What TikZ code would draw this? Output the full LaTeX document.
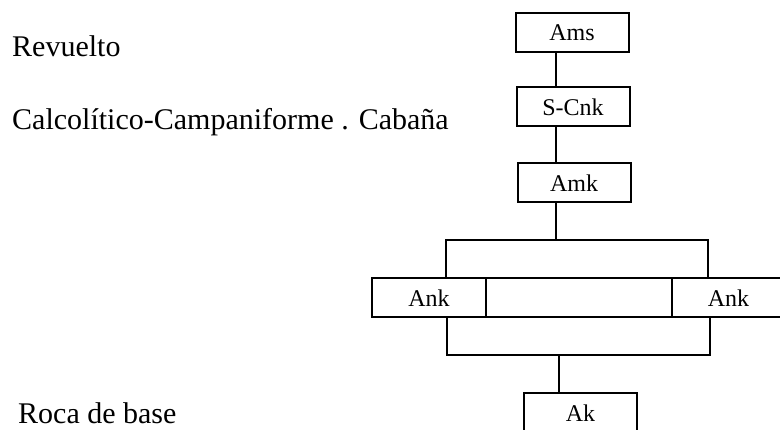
\documentclass[tikz,border=0pt]{standalone}
\usepackage{fontspec}
\setmainfont{Liberation Serif}
\usetikzlibrary{calc}

\tikzset{
  unit/.style={draw, line width=2pt, minimum width=113pt, minimum height=39pt,
    inner sep=0pt, font=\fontsize{24}{28}\selectfont},
  phase/.style={anchor=base west, inner sep=0pt, font=\fontsize{30}{36}\selectfont},
  link/.style={line width=2pt}
}

\begin{document}
\begin{tikzpicture}[x=1pt,y=-1pt]

  \useasboundingbox (0,0) rectangle (780,430);
  \clip (0,0) rectangle (780,430);

  % Phase labels
  \node[phase] (revuelto) at (12,57) {Revuelto};
  \node[phase] (cabana) at (12,130) {Calcolítico-Campaniforme . Cabaña};
  \node[phase] (roca) at (18,424) {Roca de base};

  % Units
  \node[unit] (ams) at (572,33) {Ams};
  \node[unit] (scnk) at (573,107) {S-Cnk};
  \node[unit] (amk) at (574,183) {Amk};
  \node[unit, minimum width=114pt] (lank) at (429,298) {Ank};
  \node[unit, minimum width=186pt] (mid) at (579,298) {};
  \node[unit] (rank) at (728.5,298) {Ank};
  \node[unit, minimum height=40pt] (ak) at (580.5,413) {Ak};

  % Spine and brackets
  \coordinate (spine) at (556,0);
  \coordinate (spineB) at (559,0);
  \coordinate (upL) at (446,240);
  \coordinate (upR) at (708,240);
  \coordinate (loL) at (447,355);
  \coordinate (loR) at (710,355);

  \draw[link] (ams.south -| spine) -- (scnk.north -| spine);
  \draw[link] (scnk.south -| spine) -- (amk.north -| spine);
  \draw[link] (amk.south -| spine) -- (spine |- upL);
  \draw[link] (lank.north -| upL) -- (upL) -- (upR) -- (rank.north -| upR);
  \draw[link] (lank.south -| loL) -- (loL) -- (loR) -- (rank.south -| loR);
  \draw[link] (spineB |- loL) -- (ak.north -| spineB);

\end{tikzpicture}
\end{document}
